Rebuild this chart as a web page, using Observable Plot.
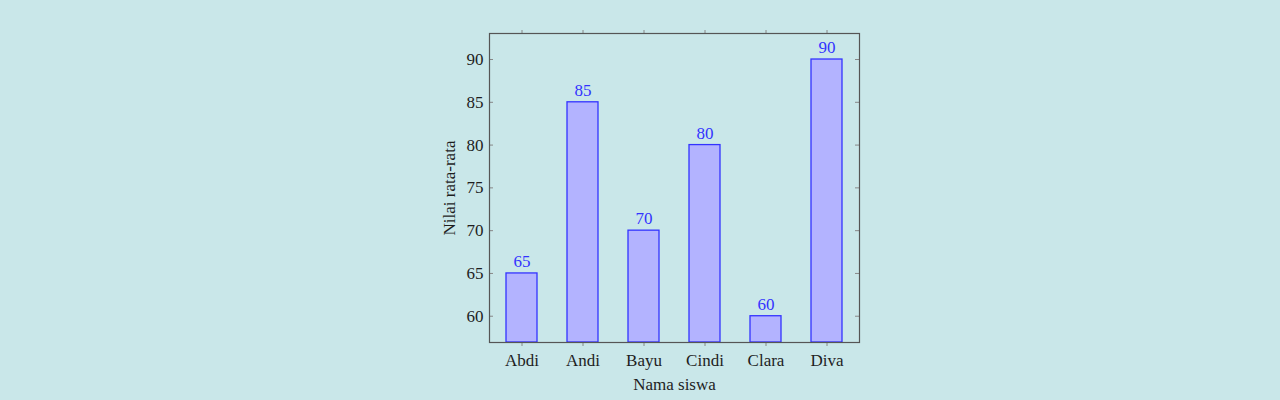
<!DOCTYPE html>
<html>
<head>
<meta charset="utf-8">
<script src="https://cdn.jsdelivr.net/npm/d3@7"></script>
<script src="https://cdn.jsdelivr.net/npm/@observablehq/plot@0.6"></script>
<style>
  html, body { margin: 0; padding: 0; background: #c9e7e9; }
  #chart svg { display: block; }
</style>
</head>
<body>
<div id="chart"></div>
<script>
const students = ["Abdi", "Andi", "Bayu", "Cindi", "Clara", "Diva"];
const scores = [65, 85, 70, 80, 60, 90];
const yTicks = [60, 65, 70, 75, 80, 85, 90];
const yDomain = [56.93, 93.04];

const data = students.map((name, i) => ({name, score: scores[i]}));

const W = 1280, H = 400;
const mL = 489, mR = 421, mT = 33, mB = 58;
const frameW = W - mL - mR;
const font = "'Liberation Serif', 'DejaVu Serif', serif";
const ink = "#1e1e1e";

const chart = Plot.plot({
  width: W,
  height: H,
  marginLeft: mL,
  marginRight: mR,
  marginTop: mT,
  marginBottom: mB,
  style: {background: "#c9e7e9", fontFamily: font, fontSize: "17px", color: ink},
  x: {domain: students, paddingInner: 0.5, paddingOuter: 0.25},
  y: {domain: yDomain},
  marks: [
    Plot.barY(data, {
      x: "name",
      y1: yDomain[0],
      y2: "score",
      fill: "#b3b3ff",
      stroke: "#3333ff",
      strokeWidth: 1.3
    }),
    Plot.text(data, {
      x: "name",
      y: "score",
      text: d => String(d.score),
      dy: -12,
      fill: "#3333ff",
      fontSize: 17,
      fontFamily: font
    }),
    // inward y ticks left and right
    Plot.tickY(yTicks, {y: d => d, insetRight: frameW - 4, stroke: "#888", strokeWidth: 1}),
    Plot.tickY(yTicks, {y: d => d, insetLeft: frameW - 4, stroke: "#888", strokeWidth: 1}),
    Plot.axisY(yTicks, {
      anchor: "left",
      tickSize: 0,
      tickPadding: 6,
      fontSize: 17,
      fill: ink,
      label: "Nilai rata-rata",
      labelAnchor: "center",
      labelArrow: "none",
      labelOffset: 47
    }),
    Plot.axisX({
      anchor: "bottom",
      tickSize: 4,
      tickPadding: 7,
      stroke: "#888",
      fontSize: 17,
      fill: ink,
      label: "Nama siswa",
      labelAnchor: "center",
      labelArrow: "none",
      labelOffset: 47
    }),
    Plot.axisX({anchor: "top", tickSize: 4, stroke: "#888", text: null, label: null}),
    Plot.frame({stroke: "#555", strokeWidth: 1.2})
  ]
});

document.getElementById("chart").appendChild(chart);
</script>
</body>
</html>
